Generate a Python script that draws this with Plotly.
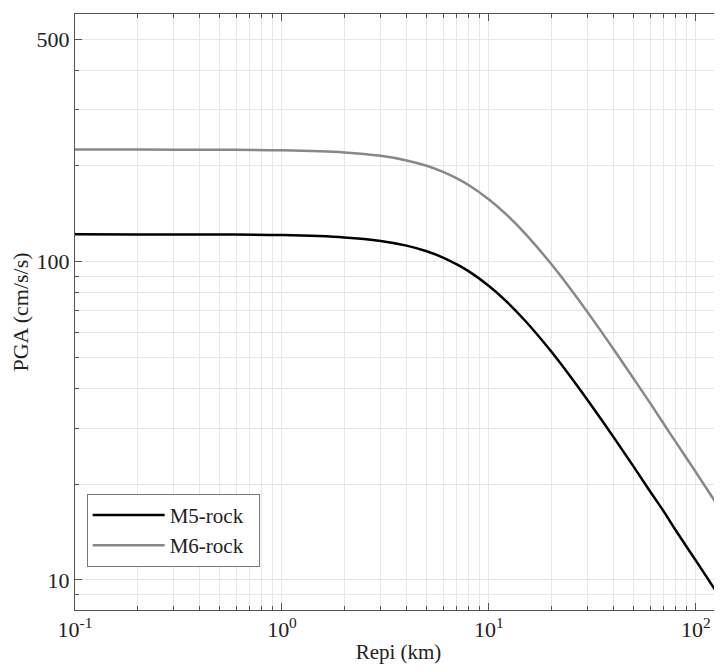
import plotly.graph_objects as go

# Epicentral distance (km)
repi = [0.1, 0.2, 0.5, 1, 2, 3, 4, 5, 6, 7, 8, 10, 12, 15, 20, 25, 30, 40, 50,
        60, 70, 80, 100, 120, 134]
# PGA values (cm/s/s)
m5_rock = [121.9, 121.8, 121.7, 121.2, 119.2, 116.2, 112.3, 107.8, 103.0, 98.0,
           93.2, 83.9, 75.6, 65.1, 52.2, 43.2, 36.7, 28.1, 22.7, 19.0, 16.4,
           14.3, 11.5, 9.60, 8.61]
m6_rock = [225.0, 224.9, 224.7, 223.8, 220.4, 215.0, 208.0, 200.1, 191.4, 182.6,
           173.7, 156.8, 141.6, 122.3, 98.3, 81.5, 69.3, 53.1, 42.9, 36.0, 30.9,
           27.1, 21.8, 18.2, 16.3]

x_major = [0.1, 1, 10, 100]
x_major_text = ["10<sup>-1</sup>", "10<sup>0</sup>", "10<sup>1</sup>", "10<sup>2</sup>"]
x_minor = [m * d for d in [0.1, 1, 10, 100] for m in range(2, 10)]
y_major = [10, 100, 500]
y_major_text = ["10", "100", "500"]
y_minor = [m * d for d in [1, 10, 100] for m in range(2, 10)]

FONT = "Liberation Serif"
GRID = "#e6e6e6"
AX = "#555555"
NB = "\u00a0\u00a0"

fig = go.Figure()
fig.add_trace(go.Scatter(x=repi, y=m5_rock, mode="lines", name="M5-rock" + NB,
                         line=dict(color="#000000", width=2.5, shape="spline")))
fig.add_trace(go.Scatter(x=repi, y=m6_rock, mode="lines", name="M6-rock" + NB,
                         line=dict(color="#888888", width=2.5, shape="spline")))

fig.update_layout(
    width=714, height=656,
    margin=dict(l=67, r=0, t=6, b=54, autoexpand=False),
    paper_bgcolor="white", plot_bgcolor="white",
    font=dict(family=FONT, size=22, color="#222222"),
    showlegend=True,
    legend=dict(x=0.018, y=0.195, xanchor="left", yanchor="top",
                bgcolor="white", bordercolor="#777777", borderwidth=1,
                font=dict(family=FONT, size=21, color="#222222"),
                itemwidth=72, tracegroupgap=2),
    xaxis=dict(type="log", range=[-1, 2.126], automargin=False,
               tickvals=x_major, ticktext=x_major_text,
               tickfont=dict(size=22),
               ticks="inside", ticklen=7, tickcolor=AX,
               showline=True, linecolor=AX, linewidth=1, mirror="ticks",
               showgrid=True, gridcolor=GRID, gridwidth=1,
               minor=dict(tickvals=x_minor, ticks="inside", ticklen=4,
                          tickcolor=AX, showgrid=True, gridcolor=GRID),
               title=dict(text="Repi (km)", font=dict(family=FONT, size=21), standoff=2),
               zeroline=False),
    yaxis=dict(type="log", range=[0.9057, 2.778], automargin=False,
               tickvals=y_major, ticktext=y_major_text,
               tickfont=dict(size=22),
               ticks="inside", ticklen=7, tickcolor=AX,
               showline=True, linecolor=AX, linewidth=1, mirror=False,
               showgrid=True, gridcolor=GRID, gridwidth=1,
               minor=dict(tickvals=y_minor, ticks="inside", ticklen=4,
                          tickcolor=AX, showgrid=True, gridcolor=GRID),
               title=dict(text="PGA (cm/s/s)", font=dict(family=FONT, size=22), standoff=6),
               zeroline=False),
)

fig.write_html("out.html")
